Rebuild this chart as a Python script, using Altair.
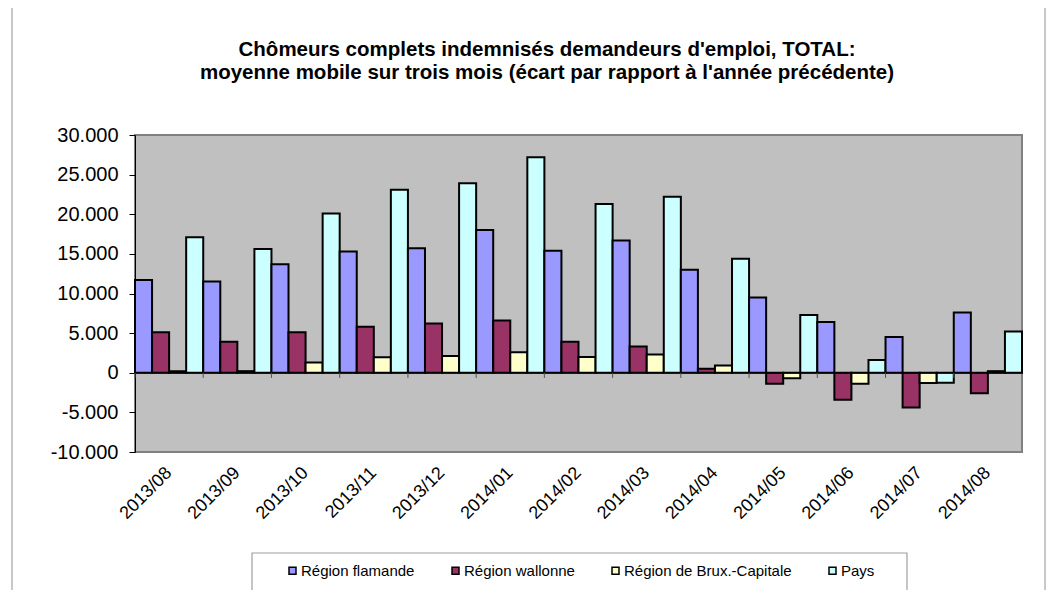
import altair as alt
import pandas as pd

months = ["2013/08", "2013/09", "2013/10", "2013/11", "2013/12", "2014/01", "2014/02",
          "2014/03", "2014/04", "2014/05", "2014/06", "2014/07", "2014/08"]
series_names = ["Région flamande", "Région wallonne", "Région de Brux.-Capitale", "Pays"]
flamande = [11700, 11500, 13700, 15300, 15700, 18000, 15400, 16700, 13000, 9500, 6400, 4500, 7600]
wallonne = [5100, 3900, 5100, 5800, 6200, 6600, 3900, 3300, 500, -1400, -3400, -4400, -2600]
bruxelles = [200, 200, 1300, 1950, 2100, 2600, 2000, 2300, 900, -700, -1400, -1300, 200]
pays = [17100, 15600, 20100, 23100, 23900, 27200, 21300, 22200, 14400, 7300, 1600, -1250, 5200]
colors = ["#9999FF", "#993366", "#FFFFCC", "#CCFFFF"]
y_ticks = [-10000, -5000, 0, 5000, 10000, 15000, 20000, 25000, 30000]
title_text = ("Chômeurs complets indemnisés demandeurs d'emploi, TOTAL:\n"
              "moyenne mobile sur trois mois (écart par rapport à l'année précédente)")

rows = []
for i, m in enumerate(months):
    for s, vals in zip(series_names, [flamande, wallonne, bruxelles, pays]):
        rows.append({"month": m, "series": s, "value": vals[i]})
df = pd.DataFrame(rows)

FONT = "Liberation Sans"
x_scale = alt.Scale(domain=months, paddingInner=0, paddingOuter=0)
y_scale = alt.Scale(domain=[-10000, 30000], nice=False)

x_axis = alt.Axis(title=None, labelAngle=315, labelAlign="right", labelBaseline="middle",
                  labelPadding=18, ticks=False, tickSize=0, domain=False,
                  labelFontSize=18, labelFont=FONT, labelColor="black")
y_axis = alt.Axis(title=None, values=y_ticks, grid=False, tickSize=6, tickColor="black",
                  domainColor="black", domainWidth=1, labelFontSize=20, labelFont=FONT,
                  labelColor="black", labelPadding=11, labelOverlap=False,
                  labelExpr="replace(replace(format(datum.value, ','), ',', '.'), '\u2212', '-')")

one = pd.DataFrame({"a": [0]})

frame = alt.Chart(one).mark_rect(fillOpacity=0, stroke="#c8c8c8", strokeWidth=2).encode(
    x=alt.value(-123), x2=alt.value(910), y=alt.value(-130.5), y2=alt.value(470)
)
legend_box = alt.Chart(one).mark_rect(fillOpacity=0, stroke="#a0a0a0", strokeWidth=1.2).encode(
    x=alt.value(117), x2=alt.value(772), y=alt.value(418), y2=alt.value(456)
)
title = alt.Chart(one).mark_text(
    font=FONT, fontSize=20.5, fontWeight="bold", color="black", align="center",
    baseline="alphabetic", lineBreak="\n", lineHeight=23
).encode(x=alt.value(412), y=alt.value(-79), text=alt.value(title_text))

bars = alt.Chart(df).mark_bar(stroke="black", strokeWidth=2).encode(
    x=alt.X("month:N", scale=x_scale, sort=months, axis=x_axis),
    xOffset=alt.XOffset("series:N", sort=series_names,
                        scale=alt.Scale(domain=series_names, paddingInner=0, paddingOuter=0)),
    y=alt.Y("value:Q", scale=y_scale, axis=y_axis),
    color=alt.Color("series:N", scale=alt.Scale(domain=series_names, range=colors),
                    legend=alt.Legend(title=None, orient="none", legendX=150, legendY=428,
                                      direction="horizontal", symbolType="square", symbolSize=49,
                                      symbolStrokeColor="black", symbolStrokeWidth=1.5,
                                      symbolOpacity=1, labelFontSize=15, labelFont=FONT,
                                      labelColor="black", columnPadding=33, labelOffset=1,
                                      labelLimit=400, padding=0)),
)

zero = alt.Chart(pd.DataFrame({"value": [0]})).mark_rule(color="black", strokeWidth=1.5).encode(
    y=alt.Y("value:Q", scale=y_scale, axis=y_axis)
)

tick_df = pd.DataFrame({"month": months, "value": [0] * len(months), "v1": [-650] * len(months)})
ticks = alt.Chart(tick_df).mark_rule(color="#555555", strokeWidth=1).encode(
    x=alt.X("month:N", bandPosition=0, sort=months, scale=x_scale, axis=x_axis),
    y=alt.Y("value:Q", scale=y_scale, axis=y_axis), y2="v1:Q"
)

chart = alt.layer(frame, legend_box, title, bars, zero, ticks).properties(
    width=887, height=317,
    autosize=alt.AutoSizeParams(type="none"),
    padding={"left": 127, "top": 127, "right": 24, "bottom": 138},
).configure(
    background="white",
    view=alt.ViewConfig(fill="#C0C0C0", stroke="#808080", strokeWidth=2),
)

chart.save("out.html", embed_options={"renderer": "svg", "actions": False})
